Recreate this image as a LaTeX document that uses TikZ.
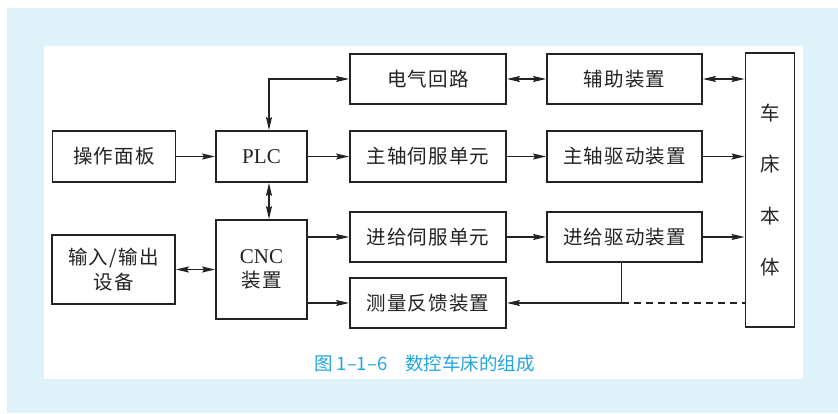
\documentclass[tikz,border=0pt]{standalone}
\usepackage{fontspec}
\usetikzlibrary{arrows.meta}
\newfontfamily\cjk{Noto Sans CJK SC}[LetterSpace=6]
\newfontfamily\cjkcap{Noto Sans CJK SC}
\newfontfamily\lat{Liberation Serif}
\definecolor{bgblue}{RGB}{223,242,250}
\definecolor{capblue}{RGB}{35,165,228}
\definecolor{ink}{RGB}{35,35,35}
\tikzset{
  box/.style={draw=ink, line width=1.9pt, inner sep=0pt, text=ink, font=\cjk\fontsize{19.5}{24}\selectfont, align=center},
  conn/.style={draw=ink, line width=1.1pt},
  tip/.style={-{Stealth[length=13pt,width=6pt,inset=2pt]}},
  tips/.style={{Stealth[length=13pt,width=6pt,inset=2pt]}-{Stealth[length=13pt,width=6pt,inset=2pt]}},
}
\begin{document}
\begin{tikzpicture}[x=1pt,y=-1pt]
\useasboundingbox (0,0) rectangle (838,413);
\fill[white] (0,0) rectangle (838,413);
\fill[bgblue] (7,8) rectangle (838,413);
\fill[white] (44,46) rectangle (803,379);
% boxes
\node[box, minimum width=156pt, minimum height=50pt] (dq) at (428,79) {电气回路};
\node[box, minimum width=155pt, minimum height=50pt] (fz) at (624.5,79) {辅助装置};
\node[box, minimum width=49pt, minimum height=274pt, font=\cjk\fontsize{19.5}{51.3}\selectfont] (cc) at (770,190) {车\\床\\本\\体};
\node[box, minimum width=123pt, minimum height=51pt] (cz) at (114,156.5) {操作面板};
\node[box, minimum width=91pt, minimum height=51pt, font=\lat\fontsize{21}{24}\selectfont] (plc) at (261.5,156.5) {PLC};
\node[box, minimum width=156pt, minimum height=51pt] (zs) at (428,156.5) {主轴伺服单元};
\node[box, minimum width=155pt, minimum height=51pt] (zq) at (624.5,156.5) {主轴驱动装置};
\node[box, minimum width=123pt, minimum height=69pt, font=\cjk\fontsize{19.5}{25}\selectfont] (io) at (113.5,269.5) {输入/输出\\设备};
\node[box, minimum width=91pt, minimum height=99pt, font=\cjk\fontsize{19.5}{24}\selectfont] (cnc) at (261.5,269.5) {{\lat\fontsize{21}{24}\selectfont CNC}\\装置};
\node[box, minimum width=156pt, minimum height=50pt] (js) at (428,237) {进给伺服单元};
\node[box, minimum width=155pt, minimum height=50pt] (jq) at (624.5,237) {进给驱动装置};
\node[box, minimum width=156pt, minimum height=50pt] (cl) at (428,303) {测量反馈装置};
% connectors
\draw[conn, tips] ([xshift=7.5pt]plc.north) |- (dq.west);
\draw[conn, tips] (dq.east) -- (fz.west);
\draw[conn, tips] (fz.east) -- (fz.east -| cc.west);
\draw[conn, tip] (cz.east) -- (plc.west);
\draw[conn, tip] (plc.east) -- (zs.west);
\draw[conn, tip] (zs.east) -- (zq.west);
\draw[conn, tip] (zq.east) -- (zq.east -| cc.west);
\draw[conn, tips] ([xshift=7.5pt]plc.south) -- ([xshift=7.5pt]cnc.north);
\draw[conn, tips] (io.east) -- (cnc.west);
\draw[conn, tip] (js.west -| cnc.east) -- (js.west);
\draw[conn, tip] (cl.west -| cnc.east) -- (cl.west);
\draw[conn, tip] (js.east) -- (jq.west);
\draw[conn, tip] (jq.east) -- (jq.east -| cc.west);
\coordinate (jn) at ([xshift=-3pt]jq.south |- cl.east);
\draw[conn, tip] ([xshift=-3pt]jq.south) |- (cl.east);
\draw[conn, dash pattern=on 7pt off 5pt] (jn) -- (cl.east -| cc.west);
% caption
\node[text=capblue, font=\cjkcap\fontsize{18.5}{20}\selectfont, inner sep=0pt] (cap) at (424.5,363) {图 1–1–6\hspace{18pt}数控车床的组成};
\end{tikzpicture}
\end{document}
